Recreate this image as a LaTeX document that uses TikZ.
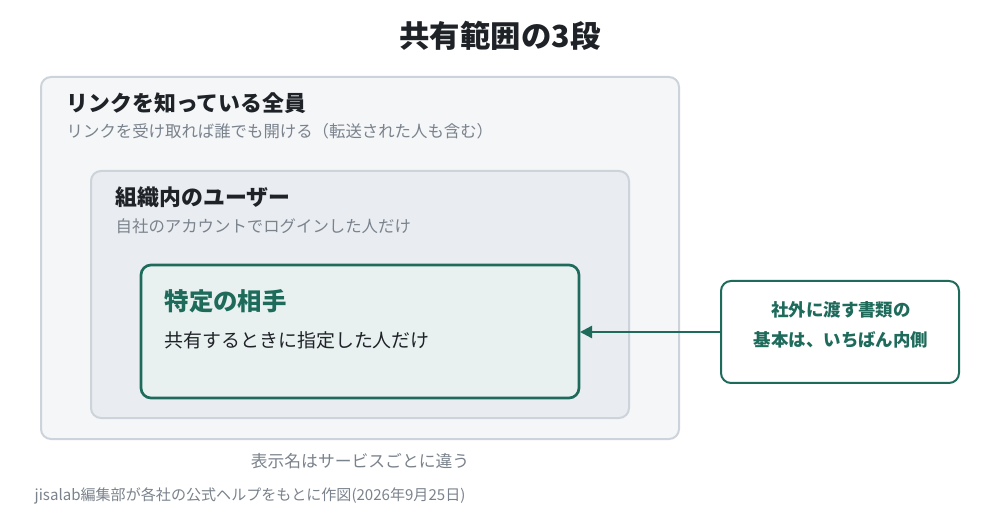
\documentclass[tikz,border=0pt]{standalone}
\usepackage{fontspec}
\setmainfont{Noto Sans CJK JP}
\usetikzlibrary{arrows.meta}
\definecolor{teal}{HTML}{1E6B5C}
\definecolor{outerf}{HTML}{F4F6F8}
\definecolor{midf}{HTML}{E9EDF1}
\definecolor{innf}{HTML}{E8F1EF}
\definecolor{bord}{HTML}{CDD3DA}
\definecolor{gry}{HTML}{7A828C}
\definecolor{dark}{HTML}{1F2328}
\begin{document}
\begin{tikzpicture}[x=0.75pt,y=-0.75pt,
 box/.style={rounded corners=7.5pt,line width=1.5pt},
 head/.style={anchor=west,font=\bfseries\fontsize{16.4}{18}\selectfont,text=dark},
 sub/.style={anchor=west,font=\fontsize{12.3}{14}\selectfont,text=gry},
 call/.style={font=\bfseries\fontsize{13.1}{15}\selectfont,text=teal}]
\useasboundingbox (0,0) rectangle (1000,520);
\node[font=\bfseries\fontsize{22.8}{25}\selectfont,text=dark] (title) at (500,36) {共有範囲の3段};
\draw[box,fill=outerf,draw=bord] (41,77) rectangle (679,439);
\node[head] (h1) at (62,103) {リンクを知っている全員};
\node[sub] (s1) at (62,131) {リンクを受け取れば誰でも開ける（転送された人も含む）};
\draw[box,fill=midf,draw=bord] (91,171) rectangle (629,418);
\node[head] (h2) at (111,197) {組織内のユーザー};
\node[sub] (s2) at (111,226) {自社のアカウントでログインした人だけ};
\draw[box,fill=innf,draw=teal,line width=2pt] (141,265) rectangle (579,398);
\node[coordinate] (inr) at (580,332) {};
\node[head,text=teal,font=\bfseries\fontsize{18.3}{20}\selectfont] (h3) at (160,301) {特定の相手};
\node[anchor=west,font=\fontsize{14.2}{16}\selectfont,text=dark] (s3) at (160,340) {共有するときに指定した人だけ};
\draw[box,fill=white,draw=teal] (721,281) rectangle (959,383);
\node[coordinate] (cl) at (720,332) {};
\node[call] (c1) at (841,310) {社外に渡す書類の};
\node[call] (c2) at (841,340) {基本は、いちばん内側};
\draw[teal,line width=1.8pt,-{Triangle[length=9pt,width=9pt]}] (cl) -- (inr);
\node[font=\fontsize{12.6}{14}\selectfont,text=gry] (note) at (360,461) {表示名はサービスごとに違う};
\node[sub,font=\fontsize{11.3}{13}\selectfont] (foot) at (30,496) {jisalab編集部が各社の公式ヘルプをもとに作図(2026年9月25日)};
\end{tikzpicture}
\end{document}
